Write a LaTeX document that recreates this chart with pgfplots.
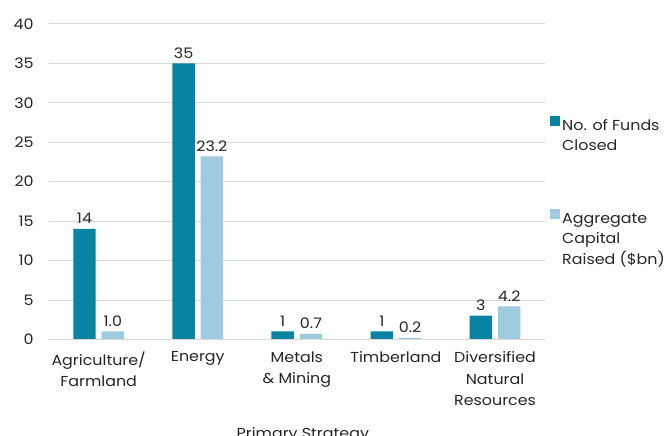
\documentclass[border=0pt]{standalone}
\usepackage{pgfplots}
\pgfplotsset{compat=1.18}
\usepackage{fontspec}
\setmainfont{Poppins}[FakeStretch=1.1]
\definecolor{funds}{HTML}{0884A2}
\definecolor{capital}{HTML}{9FCBDF}
\definecolor{gridgray}{HTML}{D9D9D9}
\definecolor{txt}{HTML}{262626}
\begin{document}
\begin{tikzpicture}[font=\fontsize{14.5}{20.5}\selectfont, text=txt]
\useasboundingbox (-49.3pt,-96.3pt) rectangle (623.3pt,340.7pt);
\begin{axis}[
  at={(0pt,0pt)}, anchor=south west,
  scale only axis, width=497.4pt, height=316.7pt,
  xmin=-0.5, xmax=4.5, ymin=0, ymax=40,
  ytick={0,5,...,40},
  xtick={0,1,2,3,4},
  xticklabels={Agriculture/\\Farmland, Energy, Metals\\\& Mining, Timberland, Diversified\\Natural\\Resources},
  xticklabel style={align=center, text=txt, font=\fontsize{14.5}{21.5}\selectfont, yshift=-9pt},
  yticklabel style={text=txt, xshift=-12pt},
  /pgf/number format/assume math mode=true,
  major tick length=0pt,
  axis line style={draw=none},
  ymajorgrids, grid style={gridgray, line width=0.9pt},
  xlabel={Primary Strategy},
  xlabel style={yshift=-15pt, xshift=6pt},
  ybar, bar width=22.5pt,
  nodes near coords,
  every node near coord/.append style={text=txt, font=\fontsize{14.5}{16}\selectfont, yshift=1.5pt},
  legend style={draw=none, fill=none, at={(1.005,0.715)}, anchor=north west,
    cells={anchor=west}, row sep=76pt, font=\fontsize{14.5}{20.5}\selectfont},
  legend image code/.code={\fill[#1,draw=none] (0pt,-0.5pt) rectangle (10pt,9.5pt);},
]
\addplot[fill=funds, draw=none, bar shift=-14.2pt,
  nodes near coords style={/pgf/number format/.cd, fixed, precision=0}]
  coordinates {(0,14) (1,35) (2,1) (3,1) (4,3)};
\addplot[fill=capital, draw=none, bar shift=14.2pt,
  nodes near coords style={/pgf/number format/.cd, fixed, fixed zerofill, precision=1}]
  coordinates {(0,1.0) (1,23.2) (2,0.7) (3,0.2) (4,4.2)};
\legend{\parbox[t]{110pt}{No. of Funds\\Closed}, \parbox[t]{110pt}{Aggregate\\Capital\\Raised (\$bn)}}
\draw[gridgray, line width=0.9pt] (axis cs:-0.5,0) -- (axis cs:4.5,0);
\end{axis}
\end{tikzpicture}
\end{document}
